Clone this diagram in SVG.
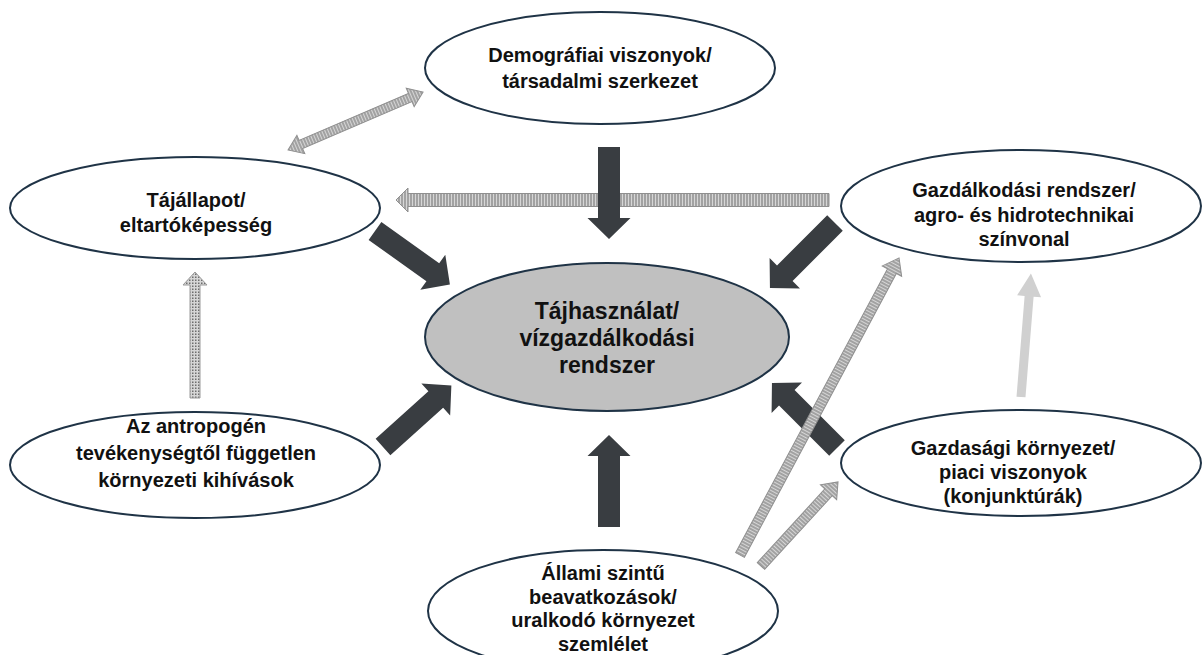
<svg xmlns="http://www.w3.org/2000/svg" width="1203" height="655" viewBox="0 0 1203 655">
<style>
.node{fill:#ffffff;stroke:#1f3346;stroke-width:2}
.core{fill:#c0c0c0;stroke:#1f3346;stroke-width:2}
text{font-family:"Liberation Sans",Arial,sans-serif;font-weight:bold;fill:#111;text-anchor:middle}
.t{font-size:20px}
.tc{font-size:23px}
.dark{fill:#393d41}
.hatch{fill:url(#hp);stroke:#8f8f8f;stroke-width:1}
.dots{fill:url(#dp);stroke:#9a9a9a;stroke-width:1}
.light{fill:#d0d0d0}
</style>
<defs>
<pattern id="hp" width="3" height="3" patternUnits="userSpaceOnUse">
<rect width="3" height="3" fill="#d6d6d6"/>
<line x1="1" y1="0" x2="1" y2="3" stroke="#6e6e6e" stroke-width="1"/>
</pattern>
<pattern id="dp" width="3" height="3" patternUnits="userSpaceOnUse">
<rect width="3" height="3" fill="#d6d6d6"/>
<rect x="0" y="0" width="1.5" height="1.5" fill="#6e6e6e"/>
</pattern>
</defs>
<g id="connectors">
<polygon class="hatch" transform="translate(829,200) rotate(180)" points="0,-6.5 421,-6.5 421,-12 433,0 421,12 421,6.5 0,6.5"/>
<polygon class="hatch" transform="translate(288,150) rotate(-23.25)" points="0,0 14,-10 14,-4.5 133,-4.5 133,-10 147,0 133,10 133,4.5 14,4.5 14,10"/>
<polygon class="dots" transform="translate(195,398) rotate(-90)" points="0,-5 113,-5 113,-12 126,0 113,12 113,5 0,5"/>
<polygon class="light" transform="translate(1021,397) rotate(-85.4)" points="0,-4.5 101,-4.5 101,-12 124,0 101,12 101,4.5 0,4.5"/>
<polygon class="dark" transform="translate(609,147) rotate(90)" points="0,-11 71,-11 71,-21.5 92,0 71,21.5 71,11 0,11"/>
<polygon class="dark" transform="translate(609,527) rotate(-90)" points="0,-11 71,-11 71,-21.5 92,0 71,21.5 71,11 0,11"/>
<polygon class="dark" transform="translate(835,223) rotate(135)" points="0,-11 71,-11 71,-21.5 92,0 71,21.5 71,11 0,11"/>
<polygon class="dark" transform="translate(837,448) rotate(-135)" points="0,-11 71,-11 71,-21.5 92,0 71,21.5 71,11 0,11"/>
<polygon class="dark" transform="translate(375,231) rotate(35.5)" points="0,-11 71,-11 71,-21.5 92,0 71,21.5 71,11 0,11"/>
<polygon class="dark" transform="translate(383,447) rotate(-42)" points="0,-11 71,-11 71,-21.5 92,0 71,21.5 71,11 0,11"/>
<polygon class="hatch" transform="translate(740,555) rotate(-61.84)" points="0,-5 322,-5 322,-11 337,0 322,11 322,5 0,5"/>
<polygon class="hatch" transform="translate(761,566) rotate(-47.5)" points="0,-5 100,-5 100,-11 114,0 100,11 100,5 0,5"/>
</g>
<g id="node-demografia">
<ellipse class="node" cx="600" cy="68" rx="175" ry="56"/>
<text class="t" x="600" y="62">Demográfiai viszonyok/</text>
<text class="t" x="600" y="88">társadalmi szerkezet</text>
</g>
<g id="node-tajallapot">
<ellipse class="node" cx="195" cy="208" rx="185" ry="51"/>
<text class="t" x="196" y="207">Tájállapot/</text>
<text class="t" x="196" y="232">eltartóképesség</text>
</g>
<g id="node-gazdalkodasi">
<ellipse class="node" cx="1021" cy="206" rx="180" ry="56"/>
<text class="t" x="1024" y="197">Gazdálkodási rendszer/</text>
<text class="t" x="1024" y="222">agro- és hidrotechnikai</text>
<text class="t" x="1024" y="246">színvonal</text>
</g>
<g id="node-center">
<ellipse class="core" cx="607" cy="337" rx="182" ry="74"/>
<text class="tc" x="607" y="319">Tájhasználat/</text>
<text class="tc" x="607" y="346">vízgazdálkodási</text>
<text class="tc" x="607" y="373">rendszer</text>
</g>
<g id="node-antropogen">
<ellipse class="node" cx="195" cy="465" rx="185" ry="53"/>
<text class="t" x="196" y="433">Az antropogén</text>
<text class="t" x="196" y="460">tevékenységtől független</text>
<text class="t" x="196" y="487">környezeti kihívások</text>
</g>
<g id="node-gazdasagi">
<ellipse class="node" cx="1021" cy="463" rx="180" ry="53"/>
<text class="t" x="1013" y="455">Gazdasági környezet/</text>
<text class="t" x="1013" y="479">piaci viszonyok</text>
<text class="t" x="1013" y="503">(konjunktúrák)</text>
</g>
<g id="node-allami">
<ellipse class="node" cx="603" cy="611" rx="175" ry="61"/>
<text class="t" x="603" y="580">Állami szintű</text>
<text class="t" x="603" y="604">beavatkozások/</text>
<text class="t" x="603" y="627">uralkodó környezet</text>
<text class="t" x="603" y="651">szemlélet</text>
</g>
</svg>
